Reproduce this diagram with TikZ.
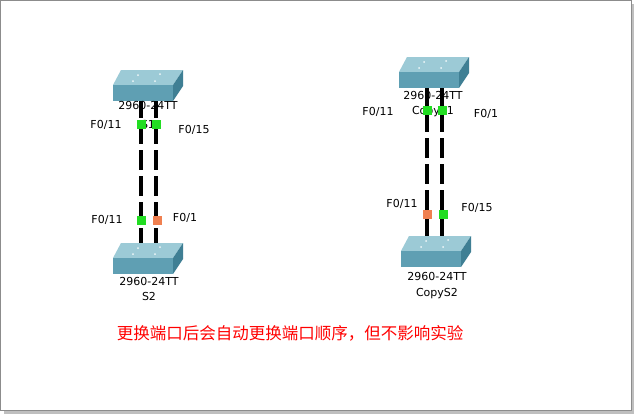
\documentclass[tikz,border=0pt]{standalone}
\usepackage{fontspec}
\setmainfont{DejaVu Sans}
\newfontfamily\cjk{Noto Sans CJK SC}
\definecolor{topc}{HTML}{9CCAD6}
\definecolor{frontc}{HTML}{5F9FB3}
\definecolor{sidec}{HTML}{3F7F94}
\definecolor{portg}{HTML}{22DD22}
\definecolor{porto}{HTML}{F08050}
\tikzset{
  lbl/.style={font=\fontsize{11}{12}\selectfont, inner sep=0pt},
  cable/.style={line width=3.4pt, dash pattern=on 20pt off 6pt},
  port/.style={minimum size=9pt, inner sep=0pt},
  pg/.style={port, fill=portg},
  po/.style={port, fill=porto},
}
\newcommand{\switchdraw}[3]{% name, x, y
  \fill[topc] (#2+8,#3-15) -- (#2+70,#3-15) -- (#2+60,#3) -- (#2,#3) -- cycle;
  \fill[frontc] (#2,#3) rectangle (#2+60,#3+16);
  \fill[sidec] (#2+60,#3) -- (#2+70,#3-15) -- (#2+70,#3+1) -- (#2+60,#3+16) -- cycle;
  \fill[white!85!topc] (#2+25,#3-10) circle (1) (#2+47,#3-11) circle (1) (#2+20,#3-4) circle (1) (#2+42,#3-4) circle (1);
  \coordinate (#1) at (#2+30,#3+7);
}
\begin{document}
\begin{tikzpicture}[x=1pt,y=-1pt]
\useasboundingbox (0,0) rectangle (644,418);
\fill[white] (0,0) rectangle (644,418);
\fill[black!25] (4,4) rectangle (634,414);
\fill[white] (0,0) rectangle (631,410);
\draw[black!45] (0,0) rectangle (631,410);
\draw[cable] (141,98) -- (141,243);
\draw[cable] (156,98) -- (156,243);
\draw[cable] (427,86) -- (427,238);
\draw[cable] (442,86) -- (442,238);
\switchdraw{s1}{113}{85}
\switchdraw{s2}{113}{258}
\switchdraw{cs1}{399}{72}
\switchdraw{cs2}{401}{251}
\node[lbl] (s1m) at (148,105) {2960-24TT};
\node[lbl] (s1n) at (148,124) {S1};
\node[lbl] (s2m) at (149,281) {2960-24TT};
\node[lbl] (s2n) at (149,296) {S2};
\node[lbl] (c1m) at (433,95) {2960-24TT};
\node[lbl] (c1n) at (433,112) {CopyS1};
\node[lbl] (c2m) at (437,276) {2960-24TT};
\node[lbl] (c2n) at (437,294) {CopyS2};
\node[pg] (p1) at (141,124) {};
\node[pg] (p2) at (156,124) {};
\node[pg] (p3) at (141,220) {};
\node[po] (p4) at (157,220) {};
\node[pg] (p5) at (427,110) {};
\node[pg] (p6) at (442,110) {};
\node[po] (p7) at (427,214) {};
\node[pg] (p8) at (443,214) {};
\node[lbl] (l1) at (106,125) {F0/11};
\node[lbl] (l2) at (194,130) {F0/15};
\node[lbl] (l3) at (107,220) {F0/11};
\node[lbl] (l4) at (185,218) {F0/1};
\node[lbl] (l5) at (378,112) {F0/11};
\node[lbl] (l6) at (486,114) {F0/1};
\node[lbl] (l7) at (402,204) {F0/11};
\node[lbl] (l8) at (477,208) {F0/15};
\node[inner sep=0pt, text=red, font=\cjk\fontsize{16.5}{18}\selectfont] (note) at (290,333) {更换端口后会自动更换端口顺序，但不影响实验};
\end{tikzpicture}
\end{document}
